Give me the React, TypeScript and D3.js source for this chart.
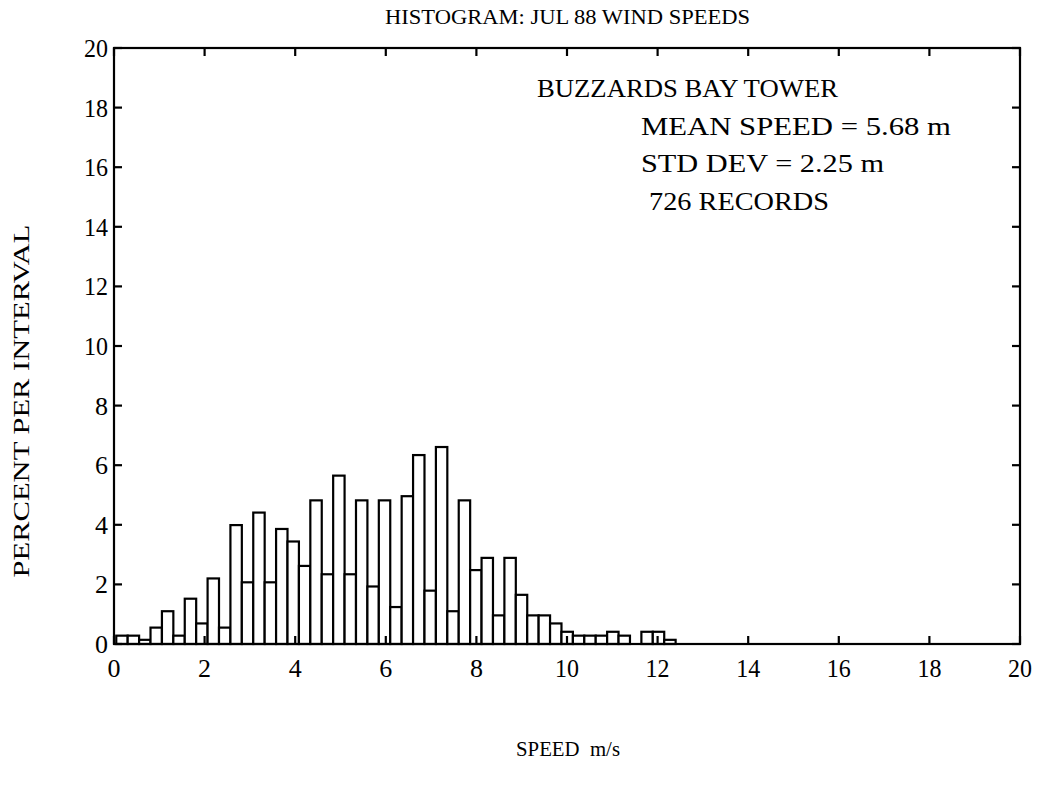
import React from "react";
import * as d3 from "d3";

// Histogram values (percent per interval)
const percents: number[] = [
  0.28, 0.28, 0.14, 0.55, 1.10, 0.28, 1.52, 0.69, 2.20, 0.55,
  3.99, 2.07, 4.41, 2.07, 3.86, 3.44, 2.62, 4.82, 2.34, 5.65,
  2.34, 4.82, 1.93, 4.82, 1.24, 4.96, 6.34, 1.79, 6.61, 1.10,
  4.82, 2.48, 2.89, 0.96, 2.89, 1.65, 0.96, 0.96, 0.69, 0.41,
  0.28, 0.28, 0.28, 0.41, 0.28, 0.00, 0.41, 0.41, 0.14,
];
const binStart = 0.05;
const binWidth = 0.252;

const xTicks = [0, 2, 4, 6, 8, 10, 12, 14, 16, 18, 20];
const yTicks = [0, 2, 4, 6, 8, 10, 12, 14, 16, 18, 20];

const title = "HISTOGRAM: JUL 88 WIND SPEEDS";
const xLabel = "SPEED  m/s";
const yLabel = "PERCENT PER INTERVAL";
const notes = [
  { text: "BUZZARDS BAY TOWER", x: 537, len: 301 },
  { text: "MEAN SPEED = 5.68 m", x: 641, len: 310 },
  { text: "STD DEV = 2.25 m", x: 641, len: 243 },
  { text: "726 RECORDS", x: 649, len: 180 },
];

export default function App() {
  const W = 1039, H = 794;
  const left = 114, right = 1020, top = 48, bottom = 644;
  const x = d3.scaleLinear().domain([0, 20]).range([left, right]);
  const y = d3.scaleLinear().domain([0, 20]).range([bottom, top]);
  const font = "'Liberation Serif', 'Times New Roman', serif";
  const tl = 8;
  const sw = 2.2;

  return (
    <svg width={W} height={H} style={{ position: "absolute", left: 0, top: 0, background: "#fff" }}>
      <rect x={0} y={0} width={W} height={H} fill="#fff" />
      <text x={385} y={24} fontFamily={font} fontSize={21} textLength={365} lengthAdjust="spacingAndGlyphs">{title}</text>

      {percents.map((p, i) => {
        const x0 = x(binStart + i * binWidth);
        const x1 = x(binStart + (i + 1) * binWidth);
        if (p <= 0) return null;
        return (
          <rect key={i} x={x0} y={y(p)} width={x1 - x0} height={y(0) - y(p)}
            fill="#fff" stroke="#000" strokeWidth={sw} />
        );
      })}

      {/* frame */}
      <rect x={left} y={top} width={right - left} height={bottom - top} fill="none" stroke="#000" strokeWidth={sw} />

      {xTicks.map((t) => (
        <g key={"x" + t}>
          <line x1={x(t)} x2={x(t)} y1={bottom} y2={bottom - tl} stroke="#000" strokeWidth={sw} />
          <line x1={x(t)} x2={x(t)} y1={top} y2={top + tl} stroke="#000" strokeWidth={sw} />
          <text x={x(t)} y={bottom + 33} textAnchor="middle" fontFamily={font} fontSize={26}
            {...(t >= 10 ? { textLength: 24, lengthAdjust: "spacingAndGlyphs" } : {})}>{t}</text>
        </g>
      ))}
      {yTicks.map((t) => (
        <g key={"y" + t}>
          <line x1={left} x2={left + tl} y1={y(t)} y2={y(t)} stroke="#000" strokeWidth={sw} />
          <line x1={right} x2={right - tl} y1={y(t)} y2={y(t)} stroke="#000" strokeWidth={sw} />
          <text x={left - 6} y={y(t) + 9} textAnchor="end" fontFamily={font} fontSize={26}
            {...(t >= 10 ? { textLength: 24, lengthAdjust: "spacingAndGlyphs" } : {})}>{t}</text>
        </g>
      ))}

      {notes.map((n, i) => (
        <text key={i} x={n.x} y={97 + i * 37.5} fontFamily={font} fontSize={26}
          textLength={n.len} lengthAdjust="spacingAndGlyphs">{n.text}</text>
      ))}

      <text x={516} y={756} fontFamily={font} fontSize={21} textLength={104} lengthAdjust="spacingAndGlyphs" style={{ whiteSpace: "pre" }}>{xLabel}</text>
      <text transform={`translate(29,401) rotate(-90)`} textAnchor="middle" fontFamily={font} fontSize={23}
        textLength={353} lengthAdjust="spacingAndGlyphs">{yLabel}</text>
    </svg>
  );
}
